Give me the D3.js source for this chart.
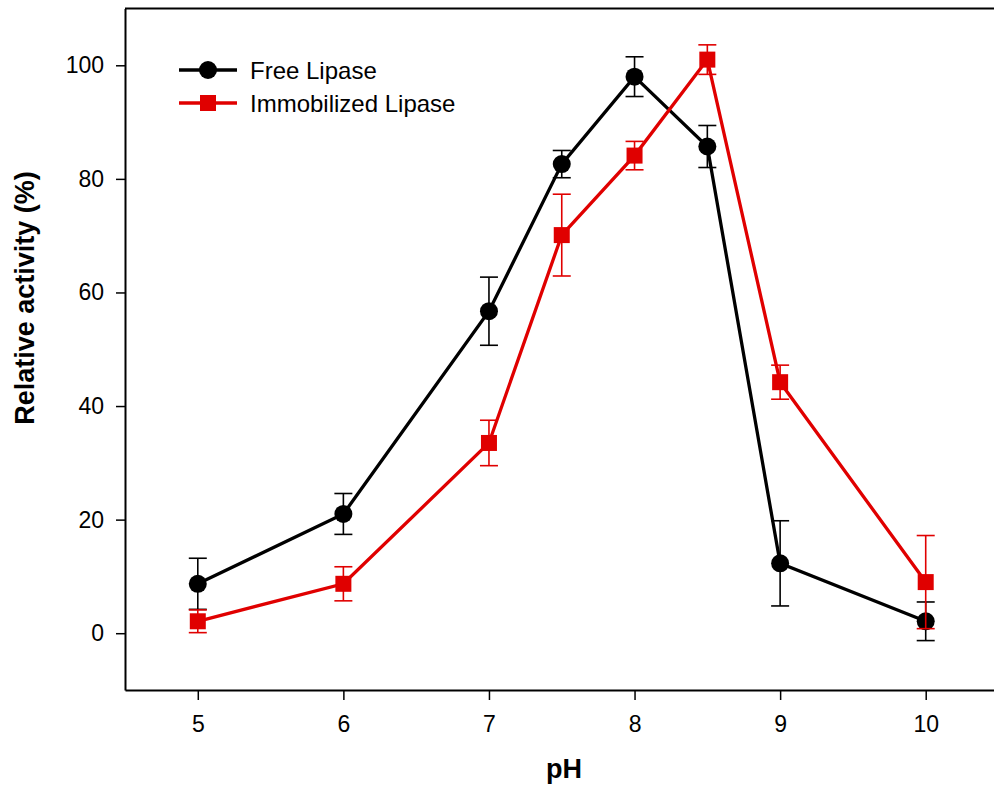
<!DOCTYPE html>
<html>
<head>
<meta charset="utf-8">
<script src="https://cdn.jsdelivr.net/npm/d3@7"></script>
<style>
  body { margin: 0; background: #fff; }
  svg { display: block; font-family: Arial, "Liberation Sans", sans-serif; }
</style>
</head>
<body>
<div id="chart"></div>
<script>
const width = 994, height = 788;
const margin = {left: 125, top: 8.5, right: -4.5, bottom: 98};

// pH values and relative activity (%) with standard deviations
const phValues = [5, 6, 7, 7.5, 8, 8.5, 9, 10];
const freeActivity = [8.7, 21.0, 56.7, 82.6, 98.0, 85.7, 12.3, 2.1];
const freeError = [4.5, 3.6, 6.0, 2.4, 3.5, 3.7, 7.5, 3.4];
const immobActivity = [2.1, 8.7, 33.5, 70.1, 84.1, 101.0, 44.2, 9.0];
const immobError = [2.0, 3.0, 4.0, 7.2, 2.5, 2.6, 3.0, 8.2];
const xTicks = [5, 6, 7, 8, 9, 10];
const yTicks = [0, 20, 40, 60, 80, 100];
const seriesNames = ["Free Lipase", "Immobilized Lipase"];

const series = [
  {name: seriesNames[0], color: "#000000", shape: "circle",
   data: phValues.map((x, i) => ({x: x, y: freeActivity[i], e: freeError[i]}))},
  {name: seriesNames[1], color: "#e00000", shape: "square",
   data: phValues.map((x, i) => ({x: x, y: immobActivity[i], e: immobError[i]}))}
];

const svg = d3.select("#chart").append("svg")
  .attr("width", width)
  .attr("height", height);

const x = d3.scaleLinear()
  .domain([4.5, 10.5])
  .range([margin.left, width - margin.right]);

const y = d3.scaleLinear()
  .domain([-10, 110])
  .range([height - margin.bottom, margin.top]);

// axes
const xAxis = svg.append("g")
  .attr("transform", "translate(0," + (height - margin.bottom) + ")")
  .call(d3.axisBottom(x).tickValues(xTicks).tickFormat(d3.format("d"))
    .tickSize(10).tickPadding(16).tickSizeOuter(0));

const yAxis = svg.append("g")
  .attr("transform", "translate(" + margin.left + ",0)")
  .call(d3.axisLeft(y).tickValues(yTicks).tickFormat(d3.format("d"))
    .tickSize(9).tickPadding(12).tickSizeOuter(0));

[xAxis, yAxis].forEach(g => {
  g.attr("font-size", null).attr("font-family", null);
  g.select(".domain").attr("stroke", "#000").attr("stroke-width", 2);
  g.selectAll(".tick line").attr("stroke", "#000").attr("stroke-width", 1.5);
  g.selectAll(".tick text")
    .attr("fill", "#000")
    .style("font-size", "23px");
});

// top frame line
svg.append("line")
  .attr("x1", margin.left).attr("x2", width)
  .attr("y1", margin.top).attr("y2", margin.top)
  .attr("stroke", "#000").attr("stroke-width", 2);

// axis titles
svg.append("text")
  .attr("x", 564)
  .attr("y", 778)
  .attr("text-anchor", "middle")
  .style("font-size", "27px")
  .style("font-weight", "bold")
  .text("pH");

svg.append("text")
  .attr("transform", "translate(34,298) rotate(-90)")
  .attr("text-anchor", "middle")
  .style("font-size", "27px")
  .style("font-weight", "bold")
  .text("Relative activity (%)");

const line = d3.line()
  .x(d => x(d.x))
  .y(d => y(d.y));

function drawMarker(sel, shape, color) {
  if (shape === "circle") {
    sel.append("circle").attr("r", 9).attr("fill", color);
  } else {
    sel.append("rect")
      .attr("x", -8).attr("y", -8)
      .attr("width", 16).attr("height", 16)
      .attr("fill", color);
  }
}

series.forEach(s => {
  const g = svg.append("g").attr("class", "series");

  g.append("path")
    .datum(s.data)
    .attr("d", line)
    .attr("fill", "none")
    .attr("stroke", s.color)
    .attr("stroke-width", 3.3);

  const pts = g.selectAll("g.pt")
    .data(s.data)
    .enter()
    .append("g")
    .attr("class", "pt")
    .attr("transform", d => "translate(" + x(d.x) + "," + y(d.y) + ")");

  pts.each(function() { drawMarker(d3.select(this), s.shape, s.color); });

  // error bars with caps
  const err = g.selectAll("g.err")
    .data(s.data)
    .enter()
    .append("g")
    .attr("class", "err")
    .attr("stroke", s.color)
    .attr("stroke-width", 1.6);

  err.append("line")
    .attr("x1", d => x(d.x)).attr("x2", d => x(d.x))
    .attr("y1", d => y(d.y + d.e)).attr("y2", d => y(d.y - d.e));
  err.append("line")
    .attr("x1", d => x(d.x) - 9).attr("x2", d => x(d.x) + 9)
    .attr("y1", d => y(d.y + d.e)).attr("y2", d => y(d.y + d.e));
  err.append("line")
    .attr("x1", d => x(d.x) - 9).attr("x2", d => x(d.x) + 9)
    .attr("y1", d => y(d.y - d.e)).attr("y2", d => y(d.y - d.e));
});

// legend
const legend = svg.append("g").attr("class", "legend");
const legendRows = legend.selectAll("g")
  .data(series)
  .enter()
  .append("g")
  .attr("transform", (d, i) => "translate(179," + (70 + i * 33) + ")");

legendRows.append("line")
  .attr("x1", 0).attr("x2", 58)
  .attr("stroke", d => d.color)
  .attr("stroke-width", 3.3);

legendRows.each(function(d) {
  const m = d3.select(this).append("g").attr("transform", "translate(29,0)");
  drawMarker(m, d.shape, d.color);
});

legendRows.append("text")
  .attr("x", 71)
  .attr("y", 8.5)
  .style("font-size", "24px")
  .text(d => d.name);
</script>
</body>
</html>
